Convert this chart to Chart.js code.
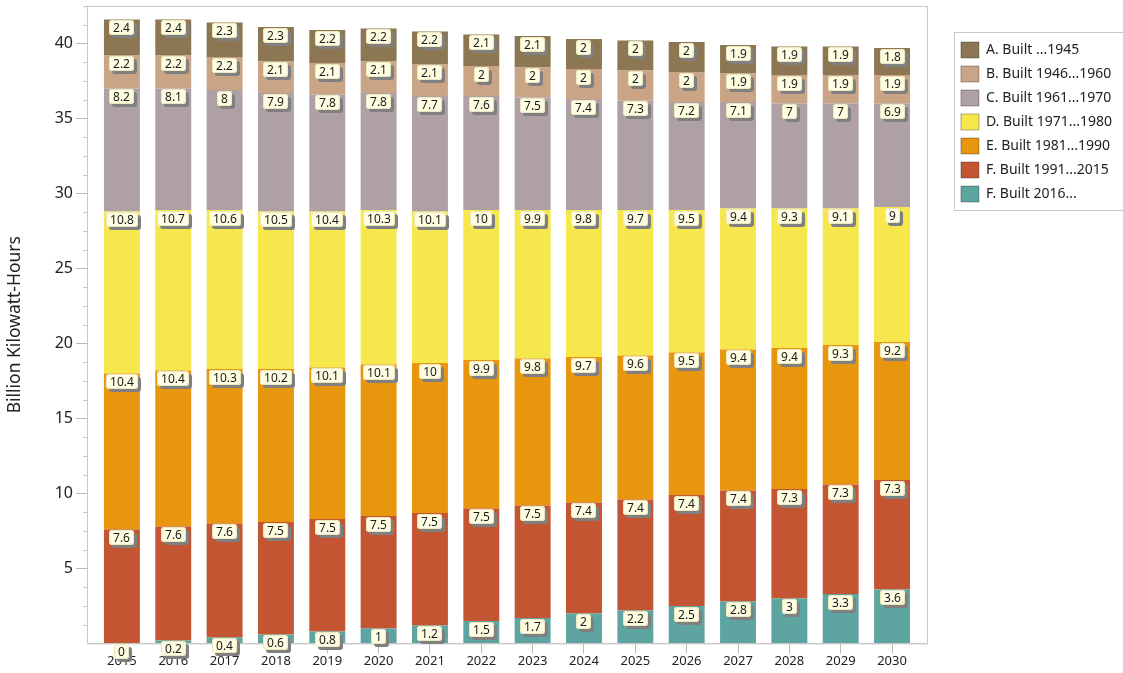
<!DOCTYPE html>
<html>
<head>
<meta charset="utf-8">
<title>Generation by build period</title>
<script src="https://cdn.jsdelivr.net/npm/chart.js@4.4.1/dist/chart.umd.min.js"></script>
<style>
  html, body { margin: 0; padding: 0; background: #fff; }
  #wrap { width: 1123px; height: 673px; }
</style>
</head>
<body>
<div id="wrap"><canvas id="chart" width="1123" height="673"></canvas></div>
<script>
//data
const years = [2015, 2016, 2017, 2018, 2019, 2020, 2021, 2022, 2023, 2024, 2025, 2026, 2027, 2028, 2029, 2030];
const builtTo1945 = [2.4, 2.4, 2.3, 2.3, 2.2, 2.2, 2.2, 2.1, 2.1, 2, 2, 2, 1.9, 1.9, 1.9, 1.8];
const built1946to1960 = [2.2, 2.2, 2.2, 2.1, 2.1, 2.1, 2.1, 2, 2, 2, 2, 2, 1.9, 1.9, 1.9, 1.9];
const built1961to1970 = [8.2, 8.1, 8, 7.9, 7.8, 7.8, 7.7, 7.6, 7.5, 7.4, 7.3, 7.2, 7.1, 7, 7, 6.9];
const built1971to1980 = [10.8, 10.7, 10.6, 10.5, 10.4, 10.3, 10.1, 10, 9.9, 9.8, 9.7, 9.5, 9.4, 9.3, 9.1, 9];
const built1981to1990 = [10.4, 10.4, 10.3, 10.2, 10.1, 10.1, 10, 9.9, 9.8, 9.7, 9.6, 9.5, 9.4, 9.4, 9.3, 9.2];
const built1991to2015 = [7.6, 7.6, 7.6, 7.5, 7.5, 7.5, 7.5, 7.5, 7.5, 7.4, 7.4, 7.4, 7.4, 7.3, 7.3, 7.3];
const builtFrom2016 = [0, 0.2, 0.4, 0.6, 0.8, 1, 1.2, 1.5, 1.7, 2, 2.2, 2.5, 2.8, 3, 3.3, 3.6];
const yTickLabels = [5, 10, 15, 20, 25, 30, 35, 40];

const FONT = '"Noto Sans", "Open Sans", sans-serif';

//stacked bottom-up, legend shows them reversed
const series = [
  { label: "F. Built 2016...", data: builtFrom2016, color: "#5ea5a1" },
  { label: "F. Built 1991...2015", data: built1991to2015, color: "#c45533" },
  { label: "E. Built 1981...1990", data: built1981to1990, color: "#e8960e" },
  { label: "D. Built 1971...1980", data: built1971to1980, color: "#f5e74c" },
  { label: "C. Built 1961...1970", data: built1961to1970, color: "#afa0a6" },
  { label: "B. Built 1946...1960", data: built1946to1960, color: "#c9a586" },
  { label: "A. Built ...1945", data: builtTo1945, color: "#8c7752" },
];

//frame around the plot area + minor y ticks
const plotFrame = {
  id: "plotFrame",
  afterDraw(chart) {
    const { ctx, chartArea } = chart;
    const y = chart.scales.y;
    ctx.save();
    ctx.strokeStyle = "#c8c8c8";
    ctx.lineWidth = 1;
    ctx.strokeRect(chartArea.left + 0.5, chartArea.top + 0.5, chartArea.right - chartArea.left, chartArea.bottom - chartArea.top);
    ctx.beginPath();
    y.ticks.forEach((t) => {
      if (t.value % 5 === 0) return;
      const py = Math.round(y.getPixelForValue(t.value)) + 0.5;
      ctx.moveTo(chartArea.left - 4, py);
      ctx.lineTo(chartArea.left, py);
    });
    ctx.stroke();

    // box round the legend
    const boxes = chart.legend.legendHitBoxes;
    if (boxes && boxes.length) {
      const x0 = Math.min(...boxes.map((b) => b.left)) - 7;
      const y0 = Math.min(...boxes.map((b) => b.top)) - 10;
      const y1 = Math.max(...boxes.map((b) => b.top + b.height)) + 8;
      ctx.strokeStyle = "#c8c8c8";
      ctx.strokeRect(Math.round(x0) + 0.5, Math.round(y0) + 0.5, chart.width - x0 + 5, y1 - y0);
    }
    ctx.restore();
  },
};

//value boxes with a drop shadow at the top of every segment
const valueBoxes = {
  id: "valueBoxes",
  afterDraw(chart) {
    const ctx = chart.ctx;
    ctx.save();
    ctx.font = "12px " + FONT;
    ctx.textAlign = "center";
    ctx.textBaseline = "middle";
    chart.data.datasets.forEach((ds, i) => {
      const meta = chart.getDatasetMeta(i);
      meta.data.forEach((bar, j) => {
        const text = String(ds.data[j]);
        const w = Math.round(ctx.measureText(text).width) + 8;
        const h = 15;
        const x = Math.round(bar.x - w / 2);
        const y = Math.round(Math.min(bar.y, bar.base)) + 1;
        ctx.fillStyle = "#808080";
        ctx.beginPath();
        ctx.roundRect(x + 3, y + 3, w, h, 3);
        ctx.fill();
        ctx.fillStyle = "#fffde2";
        ctx.beginPath();
        ctx.roundRect(x, y, w, h, 3);
        ctx.fill();
        ctx.strokeStyle = "#ece6bf";
        ctx.lineWidth = 1;
        ctx.beginPath();
        ctx.roundRect(x + 0.5, y + 0.5, w - 1, h - 1, 3);
        ctx.stroke();
        ctx.fillStyle = "#1a1a1a";
        ctx.fillText(text, x + w / 2, y + h / 2 + 1);
      });
    });
    ctx.restore();
  },
};

const ctx = document.getElementById("chart").getContext("2d");
const myChart = new Chart(ctx, {
  type: "bar",
  data: {
    labels: years,
    datasets: series.map((s) => ({
      label: s.label,
      data: s.data,
      backgroundColor: s.color,
      borderWidth: 0,
      barPercentage: 0.7,
      categoryPercentage: 1,
    })),
  },
  options: {
    responsive: false,
    animation: false,
    layout: { padding: { left: 3, top: 6, bottom: 4, right: 1 } },
    plugins: {
      legend: {
        position: "right",
        align: "start",
        reverse: true,
        title: { display: true, text: " ", font: { size: 10 }, padding: { top: 16, bottom: 0 } },
        labels: {
          boxWidth: 18,
          boxHeight: 16,
          padding: 8,
          color: "#222",
          font: { family: FONT, size: 14 },
          generateLabels(chart) {
            return chart.data.datasets.map((ds, i) => ({
              text: ds.label,
              fillStyle: ds.backgroundColor,
              strokeStyle: "rgba(0,0,0,0.3)",
              lineWidth: 1,
              datasetIndex: i,
              hidden: false,
              fontColor: "#222",
            }));
          },
        },
      },
      tooltip: { enabled: false },
    },
    scales: {
      x: {
        type: "linear",
        stacked: true,
        offset: false,
        min: 2014.32,
        max: 2030.68,
        afterBuildTicks(scale) {
          scale.ticks = years.map((v) => ({ value: v }));
        },
        ticks: {
          padding: 0,
          color: "#222",
          font: { family: FONT, size: 13 },
          maxRotation: 0,
          callback: (v) => String(v),
        },
        grid: { offset: false, drawOnChartArea: false, tickLength: 10, tickColor: "#bbb" },
        border: { color: "#c8c8c8" },
      },
      y: {
        stacked: true,
        min: 0,
        max: 42.5,
        afterFit(scale) {
          scale.width = 84;
          scale.paddingTop = 0;
          scale.paddingBottom = 0;
        },
        ticks: {
          stepSize: 1.25,
          autoSkip: false,
          padding: 3,
          color: "#222",
          font: { family: FONT, size: 16 },
          callback: (v) => (yTickLabels.includes(v) ? String(v) : ""),
        },
        grid: {
          drawOnChartArea: false,
          tickLength: 11,
          tickColor: (c) => (c.tick && yTickLabels.includes(c.tick.value) ? "#bbb" : "rgba(0,0,0,0)"),
        },
        border: { color: "#c8c8c8" },
        title: {
          display: true,
          text: "Billion Kilowatt-Hours",
          color: "#222",
          font: { family: FONT, size: 17.5 },
          padding: { top: 2, bottom: 0 },
        },
      },
      gap: {
        position: "right",
        display: true,
        afterFit(scale) {
          scale.width = 26;
        },
        ticks: { display: false },
        grid: { display: false },
        border: { display: false },
      },
    },
  },
  plugins: [plotFrame, valueBoxes],
});
</script>
</body>
</html>
